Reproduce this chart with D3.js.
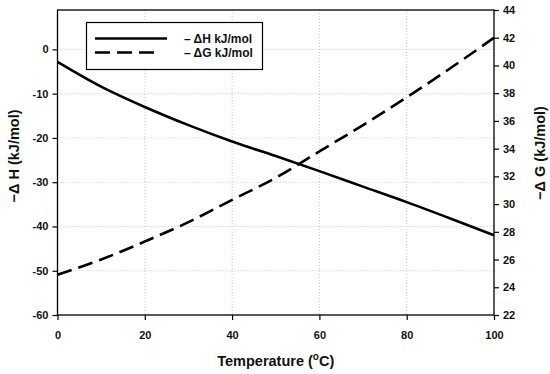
<!DOCTYPE html>
<html><head><meta charset="utf-8">
<script src="https://cdn.jsdelivr.net/npm/d3@7"></script>
<style>body{margin:0;background:#fff}svg{display:block}text{font-family:"Liberation Sans",Arial,sans-serif;font-weight:bold}</style>
</head><body><svg id="c" width="550" height="374"></svg>
<script>
const temps = [0,10,20,30,40,50,60,70,80,90,100];
const dH = [-2.8,-8.4,-13.0,-17.1,-20.8,-24.1,-27.5,-31.0,-34.5,-38.2,-42.0];
const dG = [24.9,26.0,27.3,28.7,30.3,31.9,33.8,35.7,37.7,39.8,42.0];
const xTicks = [0,20,40,60,80,100];
const yLeftTicks = [-60,-50,-40,-30,-20,-10,0];
const yRightTicks = [22,24,26,28,30,32,34,36,38,40,42,44];

const svg = d3.select("#c");
const L=57.5, R=494, T=10, B=315;
const x = d3.scaleLinear().domain([0,100]).range([L,R]);
const yL = d3.scaleLinear().domain([-60,8.9]).range([B,T]);
const yR = d3.scaleLinear().domain([22,44]).range([B,T]);
const fmt = d => String(d);

// grid
const g = svg.append("g");
g.selectAll(".hg").data(yLeftTicks.filter(d=>d>-60)).enter().append("line")
 .attr("x1",L).attr("x2",R).attr("y1",d=>yL(d)).attr("y2",d=>yL(d))
 .attr("stroke","#c8c8c8").attr("stroke-width",1).attr("stroke-dasharray","1,2");
g.selectAll(".vg").data(xTicks.filter(d=>d>0&&d<100)).enter().append("line")
 .attr("y1",T).attr("y2",B).attr("x1",d=>x(d)).attr("x2",d=>x(d))
 .attr("stroke","#c8c8c8").attr("stroke-width",1).attr("stroke-dasharray","1,2");

// axes
const ax = svg.append("g").attr("transform",`translate(0,${B})`)
 .call(d3.axisBottom(x).tickValues(xTicks).tickFormat(fmt).tickSize(5).tickSizeOuter(0));
const al = svg.append("g").attr("transform",`translate(${L},0)`)
 .call(d3.axisLeft(yL).tickValues(yLeftTicks).tickFormat(fmt).tickSize(5).tickSizeOuter(0));
const ar = svg.append("g").attr("transform",`translate(${R},0)`)
 .call(d3.axisRight(yR).tickValues(yRightTicks).tickFormat(fmt).tickSize(5).tickSizeOuter(0));
[ax,al,ar].forEach(a=>{
  a.selectAll("path.domain").remove();
  a.selectAll("line").attr("stroke","#000").attr("stroke-width",1.2);
  a.selectAll("text").attr("font-size",11).attr("font-weight","bold").attr("fill","#111")
   .attr("font-family","Liberation Sans, Arial, sans-serif");
});
ax.selectAll("text").attr("dy","1.45em");
al.selectAll("text").attr("x",-9);
ar.selectAll("text").attr("x",9);
// frame
svg.append("rect").attr("x",L).attr("y",T).attr("width",R-L).attr("height",B-T)
 .attr("fill","none").attr("stroke","#000").attr("stroke-width",1.3);

// lines
const lineH = d3.line().x((d,i)=>x(temps[i])).y(d=>yL(d)).curve(d3.curveMonotoneX);
const lineG = d3.line().x((d,i)=>x(temps[i])).y(d=>yR(d)).curve(d3.curveMonotoneX);
svg.append("path").attr("d",lineH(dH)).attr("fill","none").attr("stroke","#000").attr("stroke-width",2.6);
svg.append("path").attr("d",lineG(dG)).attr("fill","none").attr("stroke","#000").attr("stroke-width",2.6)
 .attr("stroke-dasharray","15,7");

// legend
const lg = svg.append("g");
lg.append("rect").attr("x",86.5).attr("y",22.5).attr("width",176).attr("height",47)
 .attr("fill","#fff").attr("stroke","#000").attr("stroke-width",1.2);
lg.append("line").attr("x1",95).attr("x2",167).attr("y1",38.5).attr("y2",38.5).attr("stroke","#000").attr("stroke-width",2.6);
lg.append("line").attr("x1",95).attr("x2",160).attr("y1",52.5).attr("y2",52.5).attr("stroke","#000").attr("stroke-width",2.6).attr("stroke-dasharray","15,7");
lg.append("text").attr("x",184).attr("y",43).attr("font-size",12).attr("fill","#111").text("– ΔH kJ/mol");
lg.append("text").attr("x",184).attr("y",57).attr("font-size",12).attr("fill","#111").text("– ΔG kJ/mol");

// titles
svg.append("text").attr("transform",`translate(19,156) rotate(-90)`).attr("text-anchor","middle")
 .attr("font-size",14.5).attr("fill","#111").text("−Δ H (kJ/mol)");
svg.append("text").attr("transform",`translate(545,153) rotate(-90)`).attr("text-anchor","middle")
 .attr("font-size",14.5).attr("fill","#111").text("−Δ G (kJ/mol)");
const xt = svg.append("text").attr("x",(L+R)/2).attr("y",366).attr("text-anchor","middle")
 .attr("font-size",14.5).attr("fill","#111");
xt.append("tspan").text("Temperature (");
xt.append("tspan").attr("font-size",10).attr("dy",-6).text("o");
xt.append("tspan").attr("dy",6).text("C)");
</script></body></html>
